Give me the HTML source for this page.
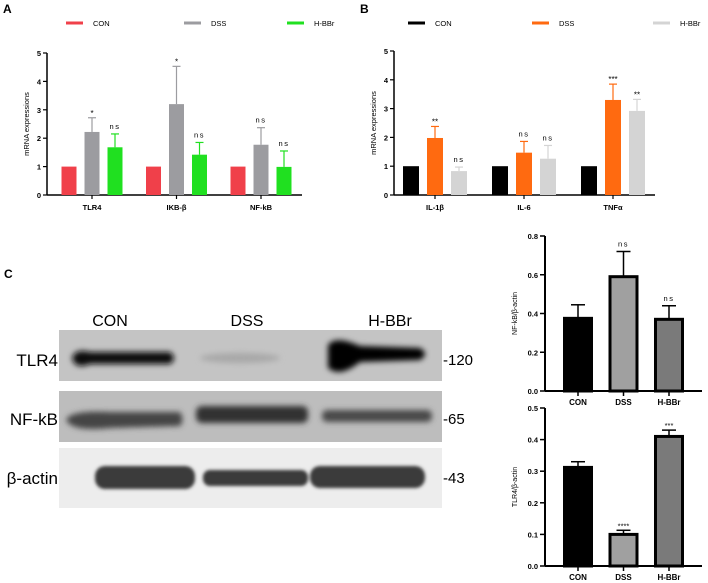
<!DOCTYPE html>
<html><head><meta charset="utf-8">
<style>
html,body{margin:0;padding:0;background:#fff;}
svg{display:block;font-family:"Liberation Sans",Arial,sans-serif;}
</style></head>
<body>
<svg id="fig" width="708" height="583" viewBox="0 0 708 583">
<defs>
<filter id="blur2" x="-20%" y="-50%" width="140%" height="200%"><feGaussianBlur stdDeviation="3"/></filter>
<filter id="blur1" x="-20%" y="-50%" width="140%" height="200%"><feGaussianBlur stdDeviation="1.5"/></filter>
</defs>
<text x="3" y="13" font-size="12" font-weight="bold">A</text>
<text x="360" y="13" font-size="12" font-weight="bold">B</text>
<text x="4" y="278" font-size="12" font-weight="bold">C</text>
<g id="gA"></g>
<g id="gB"></g>
<g id="gBlot">
  <text x="110" y="326" font-size="16" text-anchor="middle">CON</text>
  <text x="247" y="326" font-size="16" text-anchor="middle">DSS</text>
  <text x="390" y="326" font-size="16" text-anchor="middle">H-BBr</text>
  <rect x="59" y="330" width="383" height="51" fill="#c4c4c4"/>
  <g filter="url(#blur2)">
    <path d="M72,358 Q75,348 90,352 L170,352 Q178,358 170,364 L90,364 Q75,370 72,358Z" fill="#111"/>
    <ellipse cx="240" cy="358" rx="40" ry="5" fill="#a8a8a8"/>
    <path d="M328,345 Q335,335 360,346 L420,348 Q430,354 420,360 L360,362 Q340,378 328,368Z" fill="#050505"/>
  </g>
  <rect x="59" y="391" width="383" height="51" fill="#bdbdbd"/>
  <g filter="url(#blur2)">
    <path d="M66,420 Q70,410 110,412 L180,412 Q185,420 180,426 L110,428 Q72,432 66,420Z" fill="#444"/>
    <rect x="196" y="406" width="112" height="17" rx="6" fill="#333"/>
    <rect x="322" y="410" width="110" height="12" rx="5" fill="#4a4a4a"/>
  </g>
  <rect x="59" y="448" width="383" height="60" fill="#ededed"/>
  <g filter="url(#blur1)">
    <rect x="95" y="466" width="100" height="23" rx="10" fill="#3a3a3a"/>
    <rect x="203" y="470" width="105" height="16" rx="7" fill="#3a3a3a"/>
    <rect x="310" y="466" width="115" height="22" rx="10" fill="#3a3a3a"/>
  </g>
  <text x="58" y="366" font-size="17" text-anchor="end">TLR4</text>
  <text x="58" y="425" font-size="17" text-anchor="end">NF-kB</text>
  <text x="58" y="484" font-size="17" text-anchor="end">β-actin</text>
  <text x="443" y="365" font-size="15">-120</text>
  <text x="443" y="424" font-size="15">-65</text>
  <text x="443" y="483" font-size="15">-43</text>
</g>
<g id="gC1"></g>
<g id="gC2"></g>
</svg>
<script>
// Panel A data
const aCategories = ["TLR4", "IKB-β", "NF-kB"];
const aGroups = ["CON", "DSS", "H-BBr"];
const aCon = [1, 1, 1];
const aDss = [2.22, 3.2, 1.77];
const aHbbr = [1.68, 1.42, 0.99];
const aConErr = [0, 0, 0];
const aDssErr = [0.5, 1.33, 0.6];
const aHbbrErr = [0.47, 0.43, 0.56];
const aDssSig = ["*", "*", "ns"];
const aHbbrSig = ["ns", "ns", "ns"];
const aTicks = [0, 1, 2, 3, 4, 5];
// Panel B data
const bCategories = ["IL-1β", "IL-6", "TNFα"];
const bCon = [1, 1, 1];
const bDss = [1.98, 1.47, 3.3];
const bHbbr = [0.83, 1.26, 2.92];
const bConErr = [0, 0, 0];
const bDssErr = [0.4, 0.39, 0.55];
const bHbbrErr = [0.14, 0.46, 0.4];
const bDssSig = ["**", "ns", "***"];
const bHbbrSig = ["ns", "ns", "**"];
const bTicks = [0, 1, 2, 3, 4, 5];
// Panel C data
const cGroups = ["CON", "DSS", "H-BBr"];
const c1Values = [0.375, 0.59, 0.37];
const c1Err = [0.07, 0.13, 0.07];
const c1Sig = ["", "ns", "ns"];
const c1Ticks = [0, 0.2, 0.4, 0.6, 0.8];
const c2Values = [0.312, 0.1, 0.41];
const c2Err = [0.018, 0.013, 0.02];
const c2Sig = ["", "****", "***"];
const c2Ticks = [0, 0.1, 0.2, 0.3, 0.4, 0.5];

const NS = "http://www.w3.org/2000/svg";
function mk(parent, tag, attrs, text) {
  const e = document.createElementNS(NS, tag);
  for (const k in attrs) e.setAttribute(k, attrs[k]);
  if (text !== undefined) e.textContent = text;
  parent.appendChild(e);
  return e;
}

function groupedChart(g, o) {
  const y = v => o.y0 - (v - o.min) / (o.max - o.min) * (o.y0 - o.yTop);
  // axes
  const ya = mk(g, "line", {x1: o.ax, y1: o.yTop, x2: o.ax, y2: o.y0, stroke: "#000", "stroke-width": 1.5});
  
  
  const xa = mk(g, "line", {x1: o.ax, y1: o.y0, x2: o.axEnd, y2: o.y0, stroke: "#000", "stroke-width": 1.5});
  
  
  o.ticks.forEach(t => {
    mk(g, "line", {x1: o.ax - 4, y1: y(t), x2: o.ax, y2: y(t), stroke: "#000", "stroke-width": 1.2});
    const tl = mk(g, "text", {x: o.ax - 6, y: y(t) + 3, "font-size": 7.5, "font-weight": "bold", "text-anchor": "end"}, String(t));
    
    
  });
  const yt = mk(g, "text", {x: 0, y: 0, "font-size": 7.5, "text-anchor": "middle", transform: `translate(${o.ax - 18},${(o.y0 + o.yTop) / 2}) rotate(-90)`}, "mRNA expressions");
  
  
  const bw = o.bw;
  o.cats.forEach((c, i) => {
    const cx = o.x0 + i * o.catStep;
    mk(g, "line", {x1: cx + o.step, y1: o.y0, x2: cx + o.step, y2: o.y0 + 4, stroke: "#000", "stroke-width": 1.2});
    const cl = mk(g, "text", {x: cx + o.step, y: o.y0 + 15, "font-size": 7.5, "font-weight": "bold", "text-anchor": "middle"}, c);
    
    
    o.series.forEach((s, j) => {
      const bx = cx + j * o.step;
      const v = s.vals[i], e = s.err[i];
      if (e > 0) {
        mk(g, "line", {x1: bx, y1: y(v), x2: bx, y2: y(v + e), stroke: s.color, "stroke-width": 1.2});
        mk(g, "line", {x1: bx - 4, y1: y(v + e), x2: bx + 4, y2: y(v + e), stroke: s.color, "stroke-width": 1.2});
      }
      const r = mk(g, "rect", {x: bx - bw / 2, y: y(v), width: bw, height: o.y0 - y(v), fill: s.color});
      
      
      if (s.sig && s.sig[i]) {
        const isNs = s.sig[i] === "ns";
        const st = mk(g, "text", {x: bx, y: y(v + e) - (isNs ? 5 : 2), "font-size": isNs ? 7.5 : 8, "text-anchor": "middle", "letter-spacing": isNs ? 1.5 : 0}, s.sig[i]);
        
        
      }
    });
  });
  o.legend.forEach(l => {
    const ll = mk(g, "line", {x1: l.x, y1: 23, x2: l.x + 17, y2: 23, stroke: l.color, "stroke-width": 3});
    
    
    const lt = mk(g, "text", {x: l.x + 27, y: 26, "font-size": 7.5}, l.label);
    
    
  });
}

groupedChart(document.getElementById("gA"), {
  ax: 47, axEnd: 302, y0: 195, yTop: 53, min: 0, max: 5, ticks: aTicks, cats: aCategories,
  x0: 69, catStep: 84.5, step: 23, bw: 15,
  series: [
    {name: "con", vals: aCon, err: aConErr, color: "#f0404a"},
    {name: "dss", vals: aDss, err: aDssErr, color: "#9c9ca0", sig: aDssSig},
    {name: "hbbr", vals: aHbbr, err: aHbbrErr, color: "#20e020", sig: aHbbrSig}
  ],
  legend: [{x: 66, color: "#f0404a", label: aGroups[0]}, {x: 184, color: "#9c9ca0", label: aGroups[1]}, {x: 287, color: "#20e020", label: aGroups[2]}]
});
groupedChart(document.getElementById("gB"), {
  ax: 394, axEnd: 655, y0: 195, yTop: 51, min: 0, max: 5, ticks: bTicks, cats: bCategories,
  x0: 411, catStep: 89, step: 24, bw: 16,
  series: [
    {name: "con", vals: bCon, err: bConErr, color: "#000"},
    {name: "dss", vals: bDss, err: bDssErr, color: "#ff6a10", sig: bDssSig},
    {name: "hbbr", vals: bHbbr, err: bHbbrErr, color: "#d4d4d4", sig: bHbbrSig}
  ],
  legend: [{x: 408, color: "#000", label: aGroups[0]}, {x: 532, color: "#ff6a10", label: aGroups[1]}, {x: 653, color: "#d4d4d4", label: aGroups[2]}]
});

function ratioChart(g, o) {
  const y = v => o.y0 - v / o.max * (o.y0 - o.yTop);
  o.ticks.forEach(t => {
    mk(g, "line", {x1: o.ax - 5, y1: y(t), x2: o.ax, y2: y(t), stroke: "#000", "stroke-width": 1.5});
    const tl = mk(g, "text", {x: o.ax - 7, y: y(t) + 3, "font-size": 7.5, "font-weight": "bold", "text-anchor": "end"}, t.toFixed(1));
    
    
  });
  const yt = mk(g, "text", {x: 0, y: 0, "font-size": 7, "text-anchor": "middle", transform: `translate(${o.ax - 28},${(o.y0 + o.yTop) / 2}) rotate(-90)`}, o.title);
  
  
  const fills = ["#000", "#a0a0a0", "#7a7a7a"];
  o.groups.forEach((gname, i) => {
    const cx = 578 + i * 45.5;
    const v = o.vals[i], e = o.err[i];
    mk(g, "line", {x1: cx, y1: y(v), x2: cx, y2: y(v + e), stroke: "#000", "stroke-width": 1.5});
    mk(g, "line", {x1: cx - 7, y1: y(v + e), x2: cx + 7, y2: y(v + e), stroke: "#000", "stroke-width": 1.5});
    const r = mk(g, "rect", {x: cx - 13.5, y: y(v), width: 27, height: o.y0 - y(v), fill: fills[i], stroke: "#000", "stroke-width": 3});
    
    
    mk(g, "line", {x1: cx, y1: o.y0, x2: cx, y2: o.y0 + 5, stroke: "#000", "stroke-width": 1.5});
    const xl = mk(g, "text", {x: cx, y: o.y0 + 14, "font-size": 8, "font-weight": "bold", "text-anchor": "middle"}, gname);
    
    
    if (o.sig[i]) {
      const isNs = o.sig[i] === "ns";
      const s = mk(g, "text", {x: cx, y: y(v + e) - (isNs ? 5 : 2), "font-size": 7.5, "text-anchor": "middle", "letter-spacing": isNs ? 1.5 : 0}, o.sig[i]);
      
      
    }
  });
  const ya = mk(g, "line", {x1: o.ax, y1: o.yTop, x2: o.ax, y2: o.y0, stroke: "#000", "stroke-width": 2});
  
  
  const xa = mk(g, "line", {x1: o.ax, y1: o.y0, x2: 702, y2: o.y0, stroke: "#000", "stroke-width": 2});
  
  
}
ratioChart(document.getElementById("gC1"), {ax: 545, y0: 391, yTop: 236, max: 0.8, ticks: c1Ticks, groups: cGroups, vals: c1Values, err: c1Err, sig: c1Sig, title: "NF-kB/β-actin"});
ratioChart(document.getElementById("gC2"), {ax: 545, y0: 566, yTop: 408, max: 0.5, ticks: c2Ticks, groups: cGroups, vals: c2Values, err: c2Err, sig: c2Sig, title: "TLR4/β-actin"});
</script>
</body></html>
